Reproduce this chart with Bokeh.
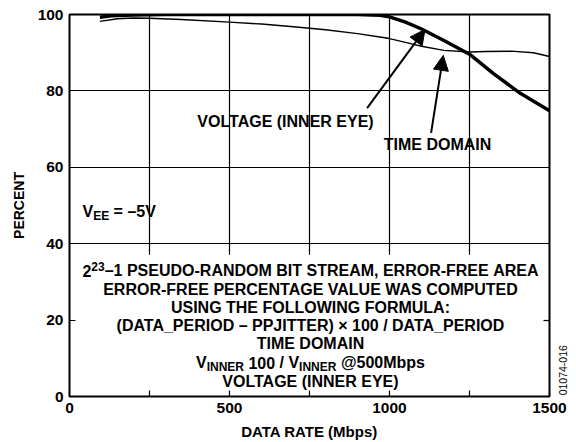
import math
from bokeh.plotting import figure
from bokeh.models import (Range1d, FixedTicker, LinearAxis, Label, Arrow, NormalHead,
                          ColumnDataSource)
from bokeh.embed import file_html
from bokeh.resources import INLINE

# ---------------- data ----------------
x_ticks = [0, 250, 500, 750, 1000, 1250, 1500]
x_tick_labels = {0: "0", 250: "", 500: "500", 750: "", 1000: "1000", 1250: "", 1500: "1500"}
y_ticks = [0, 20, 40, 60, 80, 100]
grid_y_levels = [40, 60, 80]
grid_x_levels = [250, 500, 750, 1000, 1250]

# TIME DOMAIN (thin curve)
time_rate = [95, 150, 200, 250, 350, 500, 600, 700, 800, 900, 970, 1000, 1060, 1100, 1170, 1250, 1300, 1380, 1450, 1500]
time_pct = [98.2, 98.9, 99.1, 99.0, 98.7, 98.0, 97.5, 96.8, 96.0, 95.0, 94.1, 93.7, 92.5, 91.7, 90.6, 90.2, 90.3, 90.4, 90.0, 89.0]

# VOLTAGE (INNER EYE) (thick curve)
volt_rate = [95, 130, 200, 300, 500, 700, 900, 970, 1000, 1050, 1100, 1170, 1250, 1325, 1410, 1500]
volt_pct = [99.3, 99.7, 99.9, 100, 100, 100, 100, 99.8, 99.4, 98.0, 96.2, 93.2, 89.6, 84.5, 79.3, 74.8]

FONT = "Liberation Sans"

p = figure(width=576, height=442, output_backend="svg", toolbar_location=None,
           x_range=Range1d(0, 1500), y_range=Range1d(0, 100),
           min_border_left=69, min_border_right=27, min_border_top=14, min_border_bottom=44)
p.background_fill_color = "white"
p.border_fill_color = "white"
p.outline_line_color = "black"
p.outline_line_width = 2
p.outline_line_alpha = 1

# axes
for ax in [p.xaxis[0], p.yaxis[0]]:
    ax.axis_line_color = None
    ax.major_tick_in = 6
    ax.major_tick_out = 0
    ax.minor_tick_line_color = None
    ax.major_tick_line_color = "black"
    ax.major_tick_line_width = 1.2
    ax.major_label_text_font = FONT
    ax.major_label_text_font_style = "bold"
    ax.major_label_text_font_size = "15.5px"
    ax.major_label_text_color = "black"
    ax.major_label_standoff = 6
    ax.axis_label_text_font = FONT
    ax.axis_label_text_font_style = "bold"
    ax.axis_label_text_color = "black"
p.xaxis[0].ticker = FixedTicker(ticks=x_ticks)
p.xaxis[0].major_label_overrides = x_tick_labels
p.xaxis[0].axis_label = "DATA RATE (Mbps)"
p.xaxis[0].axis_label_text_font_size = "15px"
p.xaxis[0].axis_label_standoff = 7
p.yaxis[0].ticker = FixedTicker(ticks=y_ticks)
p.yaxis[0].axis_label = "PERCENT"
p.yaxis[0].axis_label_text_font_size = "14px"
p.yaxis[0].axis_label_standoff = 8

right = LinearAxis(ticker=FixedTicker(ticks=[20]), major_label_overrides={20: ""},
                   axis_line_color=None, major_tick_in=6, major_tick_out=0,
                   minor_tick_line_color=None, major_tick_line_width=1.2,
                   major_label_text_font_size="1px", major_label_standoff=0)
p.add_layout(right, "right")
code_axis = LinearAxis(ticker=FixedTicker(ticks=[0.3]), major_label_overrides={0.3: "01074-016"},
                       axis_line_color=None, major_tick_in=0, major_tick_out=0,
                       minor_tick_line_color=None, major_label_text_font=FONT,
                       major_label_text_font_size="10.5px", major_label_text_color="black",
                       major_label_orientation=math.pi / 2, major_label_standoff=14)
p.add_layout(code_axis, "right")

# grid
p.xgrid.visible = False
p.ygrid.ticker = FixedTicker(ticks=grid_y_levels)
p.ygrid.grid_line_color = "black"
p.ygrid.grid_line_width = 1.2
p.ygrid.grid_line_alpha = 1

gsrc = ColumnDataSource(dict(x=grid_x_levels,
                             y0=[37.1] * len(grid_x_levels),
                             y1=[100] * len(grid_x_levels)))
p.segment(x0="x", y0="y0", x1="x", y1="y1", source=gsrc, line_color="black", line_width=1.2)

# curves
p.line(time_rate, time_pct, line_color="black", line_width=1.4)
p.line(volt_rate, volt_pct, line_color="black", line_width=3.5)

# arrows
for xs, ys, xe, ye in [(930, 75.5, 1111, 96.1), (1130, 69.0, 1168, 89.3)]:
    p.add_layout(Arrow(end=NormalHead(size=15, fill_color="black", line_color="black", line_width=1),
                       x_start=xs, y_start=ys, x_end=xe, y_end=ye,
                       line_color="black", line_width=2))

# char widths (Arial Bold, per 1000 em)
W = {" ": 278, "(": 333, ")": 333, ",": 278, "-": 333, "/": 278, ":": 333, "=": 584, "@": 975,
     "–": 556, "×": 584, "_": 556, "b": 611, "p": 611, "s": 556}
W.update({d: 556 for d in "0123456789"})
W.update(dict(A=722, B=722, C=722, D=722, E=667, F=611, G=778, H=722, I=278, J=556, K=722,
              L=611, M=833, N=722, O=778, P=667, Q=778, R=722, S=667, T=611, U=722, V=667,
              W=944, X=667, Y=667, Z=611))


def tw(s, size):
    return sum(W.get(c, 600) for c in s) * size / 1000.0


def label(x, y, text, size, align="center", x_offset=0, angle=0, bold=True):
    p.add_layout(Label(x=x, y=y, text=text, text_font=FONT,
                       text_font_style="bold" if bold else "normal",
                       text_font_size=f"{size}px", text_color="black",
                       text_align=align, text_baseline="middle",
                       x_offset=x_offset, angle=angle))


def rich(xc, y, pieces, align="center"):
    total = sum(tw(t, s) for t, s, _ in pieces)
    off = -total / 2 if align == "center" else 0
    for t, s, dy in pieces:
        for word in t.split(" "):
            if word:
                label(xc, y + dy, word, s, align="left", x_offset=off)
                off += tw(word, s)
            off += tw(" ", s)
        off -= tw(" ", s)


SZ = 16
SUB = 12
label(675, 71.9, "VOLTAGE (INNER EYE)", SZ)
label(1150, 65.9, "TIME DOMAIN", SZ)

rich(40.6, 48.5, [("V", SZ, 0), ("EE", SUB, -1.15), (" = –5V", SZ, 0)], align="left")

rich(753, 32.9, [("2", SZ, 0), ("23", SUB, 1.2), ("–1 PSEUDO-RANDOM BIT STREAM, ERROR-FREE AREA", SZ, 0)])
label(753, 28.1, "ERROR-FREE PERCENTAGE VALUE WAS COMPUTED", SZ)
label(753, 23.4, "USING THE FOLLOWING FORMULA:", SZ)
label(753, 18.6, "(DATA_PERIOD – PPJITTER) × 100 / DATA_PERIOD", SZ)
label(753, 13.8, "TIME DOMAIN", SZ)
rich(753, 8.9, [("V", SZ, 0), ("INNER", SUB, -1.15), (" 100 / V", SZ, 0), ("INNER", SUB, -1.15),
                (" @500Mbps", SZ, 0)])
label(753, 4.0, "VOLTAGE (INNER EYE)", SZ)

open("out.html", "w").write(file_html(p, INLINE))
